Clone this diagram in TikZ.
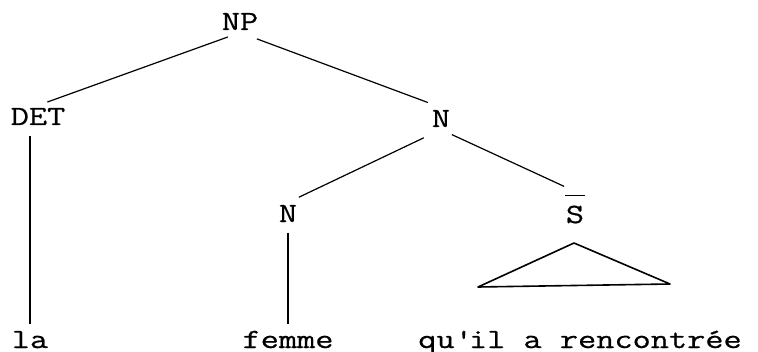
\documentclass[tikz,border=0pt]{standalone}
\usepackage{fontspec}
\newfontfamily\treefont[FakeStretch=1.27,FakeBold=0.7]{Latin Modern Mono}
\tikzset{every picture/.style={line width=0.6pt}}
\tikzset{lab/.style={font=\treefont\fontsize{13.9}{16}\selectfont, inner sep=1pt, anchor=base}}

\begin{document}
\begin{tikzpicture}[x=0.5pt,y=0.5pt,yscale=-1,xscale=1]
    \useasboundingbox (0,0) rectangle (758,352);
    % categories
    \node [lab] (np) at (240,30) {NP};
    \node [lab] (det) at (38,125) {DET};
    \node [lab] (nup) at (441,127) {N};
    \node [lab] (nlow) at (288,222) {N};
    \node [lab] (sbar) at (575,223) {$\overline{\hbox to 10pt{\hss S\rule{0pt}{12.5pt}\hss}}$};
    % words
    \node [lab] (la) at (30,348) {la};
    \node [lab] (femme) at (288,348) {femme};
    \node [lab] (rel) at (580,348) {qu\textquotesingle il a rencontrée};
    % branches
    \draw [shorten <=6.5pt, shorten >=5pt] (np.south) -- (det.north);
    \draw [shorten <=9pt, shorten >=7pt] (np.south) -- (nup.north);
    \draw [shorten <=9.5pt, shorten >=6pt] (nup.south) -- (nlow.north);
    \draw [shorten <=6pt, shorten >=6pt] (nup.south) -- (sbar.north);
    \draw [shorten <=4pt, shorten >=2pt] (det.south -| la.north) -- (la.north);
    \draw [shorten <=4pt, shorten >=2pt] (nlow.south) -- (femme.north);
    % triangle
    \coordinate (roof) at (574,243);
    \coordinate (roofl) at (478,287);
    \coordinate (roofr) at (670,284);
    \draw [line width=0.8pt, line join=round] (roof) -- (roofr) -- (roofl) -- cycle;
\end{tikzpicture}
\end{document}
